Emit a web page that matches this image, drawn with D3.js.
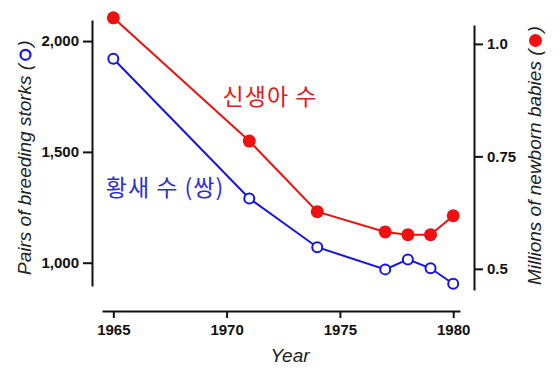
<!DOCTYPE html>
<html>
<head>
<meta charset="utf-8">
<script src="https://cdn.jsdelivr.net/npm/d3@7"></script>
<style>
  body { margin: 0; background: #fff; }
  svg { display: block; font-family: 'Liberation Sans', Arial, sans-serif; }
  .axis path, .axis line { stroke: #111; stroke-width: 2; }
  .axis text { font-size: 15px; font-weight: bold; fill: #111; }
</style>
</head>
<body>
<svg id="chart" width="560" height="373"></svg>
<script>
const years = [1965, 1971, 1974, 1977, 1978, 1979, 1980];
const storks = [1920, 1290, 1070, 970, 1015, 975, 905];
const babies = [1.058, 0.784, 0.627, 0.582, 0.576, 0.576, 0.618];

const xTicks = [1965, 1970, 1975, 1980];
const leftTicks = [1000, 1500, 2000];
const leftLabels = ['1,000', '1,500', '2,000'];
const rightTicks = [0.5, 0.75, 1.0];
const rightLabels = ['0.5', '0.75', '1.0'];

const red = '#ee1111';
const blue = '#1414e6';

const svg = d3.select('#chart');

const x = d3.scaleLinear().domain([1964.5, 1980.3]).range([102, 460]);
const yL = d3.scaleLinear().domain([895, 2095]).range([286, 20]);
const yR = d3.scaleLinear().domain([0.453, 1.042]).range([290, 25]);

// axes
svg.append('g')
  .attr('class', 'axis')
  .attr('transform', 'translate(0,311)')
  .call(d3.axisBottom(x).tickValues(xTicks).tickFormat(d3.format('d'))
    .tickSizeInner(7).tickSizeOuter(0).tickPadding(6));

svg.append('g')
  .attr('class', 'axis')
  .attr('transform', 'translate(92,0)')
  .call(d3.axisLeft(yL).tickValues(leftTicks).tickFormat((d, i) => leftLabels[i])
    .tickSizeInner(9).tickSizeOuter(0).tickPadding(4));

svg.append('g')
  .attr('class', 'axis')
  .attr('transform', 'translate(474,0)')
  .call(d3.axisRight(yR).tickValues(rightTicks).tickFormat((d, i) => rightLabels[i])
    .tickSizeInner(9).tickSizeOuter(0).tickPadding(4));

svg.selectAll('.axis .domain').attr('fill', 'none');

// lines
const babyLine = d3.line().x((d, i) => x(years[i])).y(d => yR(d));
const storkLine = d3.line().x((d, i) => x(years[i])).y(d => yL(d));

svg.append('path')
  .datum(babies)
  .attr('fill', 'none')
  .attr('stroke', red)
  .attr('stroke-width', 2)
  .attr('d', babyLine);

svg.append('path')
  .datum(storks)
  .attr('fill', 'none')
  .attr('stroke', blue)
  .attr('stroke-width', 2)
  .attr('d', storkLine);

svg.selectAll('.baby')
  .data(babies)
  .enter()
  .append('circle')
    .attr('class', 'baby')
    .attr('cx', (d, i) => x(years[i]))
    .attr('cy', d => yR(d))
    .attr('r', 6.5)
    .attr('fill', red);

svg.selectAll('.stork')
  .data(storks)
  .enter()
  .append('circle')
    .attr('class', 'stork')
    .attr('cx', (d, i) => x(years[i]))
    .attr('cy', d => yL(d))
    .attr('r', 5)
    .attr('fill', '#fff')
    .attr('stroke', blue)
    .attr('stroke-width', 2);

// korean labels
svg.append('text')
  .attr('x', 270)
  .attr('y', 105)
  .attr('text-anchor', 'middle')
  .attr('fill', '#dd2020')
  .style('font-family', "'Noto Sans CJK KR', sans-serif")
  .style('font-size', '23px')
  .style('letter-spacing', '1px')
  .text('신생아 수');

svg.append('text')
  .attr('x', 165)
  .attr('y', 196)
  .attr('text-anchor', 'middle')
  .attr('fill', '#2e2ed6')
  .style('font-family', "'Noto Sans CJK KR', sans-serif")
  .style('font-size', '23px')
  .style('letter-spacing', '1px')
  .text('황새 수 (쌍)');

// axis titles
svg.append('text')
  .attr('x', 290)
  .attr('y', 362)
  .attr('text-anchor', 'middle')
  .style('font-size', '19px')
  .style('font-style', 'italic')
  .attr('fill', '#222')
  .text('Year');

function sideTitle(tx, ty, label, marker) {
  const g = svg.append('g').attr('transform', `translate(${tx},${ty})rotate(-90)`);
  const t = g.append('text')
    .style('font-size', '19px')
    .style('font-style', 'italic')
    .attr('fill', '#222')
    .text(label + ' (');
  const len = t.node().getComputedTextLength();
  const c = g.append('circle')
    .attr('cx', len + 9)
    .attr('cy', -5.5);
  marker(c);
  g.append('text')
    .attr('x', len + 17)
    .style('font-size', '19px')
    .style('font-style', 'italic')
    .attr('fill', '#222')
    .text(')');
}

sideTitle(31, 275, 'Pairs of breeding storks', c => c
  .attr('r', 5).attr('fill', '#fff').attr('stroke', blue).attr('stroke-width', 2.2));

sideTitle(541, 285, 'Millions of newborn babies', c => c
  .attr('r', 6.5).attr('fill', red));
</script>
</body>
</html>
